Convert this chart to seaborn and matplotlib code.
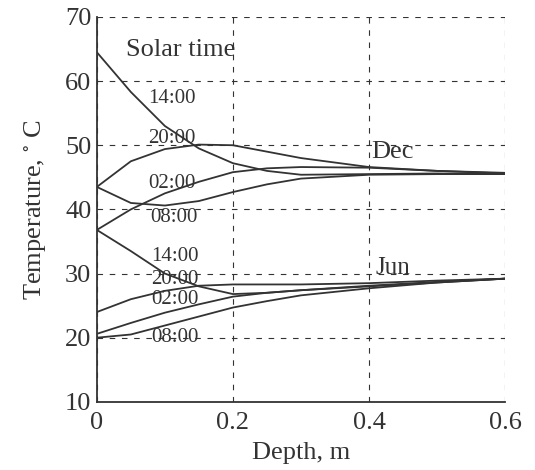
import numpy as np
import pandas as pd
import matplotlib
matplotlib.use("Agg")
import matplotlib.pyplot as plt
import seaborn as sns

# depth grid (m)
depth = [0.0, 0.05, 0.1, 0.15, 0.2, 0.25, 0.3, 0.4, 0.5, 0.6]

# December profiles (deg C)
dec_1400 = [64.5, 58.3, 53.0, 49.5, 47.2, 46.0, 45.4, 45.5, 45.6, 45.5]
dec_2000 = [43.5, 47.5, 49.4, 50.1, 50.0, 49.0, 48.0, 46.6, 46.0, 45.7]
dec_0200 = [36.8, 40.0, 42.5, 44.3, 45.8, 46.4, 46.6, 46.5, 46.0, 45.6]
dec_0800 = [43.5, 41.0, 40.6, 41.3, 42.7, 43.9, 44.8, 45.4, 45.5, 45.5]

# June profiles (deg C)
jun_1400 = [36.8, 33.5, 30.0, 28.0, 26.8, 27.0, 27.4, 28.1, 28.7, 29.2]
jun_2000 = [24.0, 26.0, 27.3, 28.1, 28.3, 28.3, 28.3, 28.5, 28.9, 29.2]
jun_0200 = [20.6, 22.3, 23.9, 25.2, 26.4, 27.0, 27.4, 28.0, 28.6, 29.2]
jun_0800 = [20.0, 20.5, 21.9, 23.3, 24.7, 25.7, 26.6, 27.7, 28.6, 29.2]

curves = {
    "Dec 14:00": dec_1400, "Dec 20:00": dec_2000,
    "Dec 02:00": dec_0200, "Dec 08:00": dec_0800,
    "Jun 14:00": jun_1400, "Jun 20:00": jun_2000,
    "Jun 02:00": jun_0200, "Jun 08:00": jun_0800,
}

# curve labels: (text, x, y)
time_labels = [("14:00", 0.075, 57.3), ("20:00", 0.075, 51.1),
               ("02:00", 0.075, 44.1), ("08:00", 0.078, 38.7),
               ("14:00", 0.08, 32.6), ("20:00", 0.08, 29.0),
               ("02:00", 0.08, 25.9), ("08:00", 0.08, 20.0)]

rows = []
for name, vals in curves.items():
    for d, t in zip(depth, vals):
        rows.append({"curve": name, "depth": d, "temp": t})
df = pd.DataFrame(rows)

sns.set_style("white")
plt.rcParams["mathtext.fontset"] = "stix"
ink = "#333333"
serif = ["Liberation Serif", "DejaVu Serif"]

fig, ax = plt.subplots(figsize=(5.35, 4.70), dpi=100)
fig.subplots_adjust(left=0.181, right=0.944, top=0.964, bottom=0.145)

sns.lineplot(data=df, x="depth", y="temp", units="curve", estimator=None,
             color=ink, lw=1.3, ax=ax, legend=False)

ax.set_xlim(0, 0.6)
ax.set_ylim(10, 70)
ax.set_xticks([0, 0.2, 0.4, 0.6])
ax.set_xticklabels(["0", "0.2", "0.4", "0.6"])
ax.set_yticks([10, 20, 30, 40, 50, 60, 70])
ax.grid(True, color=ink, lw=0.8, linestyle=(0, (5, 6)))
ax.tick_params(direction="in", length=4, width=1, labelsize=19,
               colors=ink)
ax.tick_params(axis="x", pad=7)
ax.tick_params(axis="y", pad=4)
for lab in ax.get_xticklabels() + ax.get_yticklabels():
    lab.set_family(serif)
for s in ["top", "right"]:
    ax.spines[s].set_visible(False)
for s in ["left", "bottom"]:
    ax.spines[s].set_color(ink)
    ax.spines[s].set_linewidth(1.3)

ax.set_xlabel("Depth, m", family=serif, fontsize=19, color=ink, labelpad=6)
ax.set_ylabel("Temperature, $^{\\circ}$ C", family=serif, fontsize=19,
              color=ink, labelpad=12)

ax.text(0.043, 64.8, "Solar time", family=serif, fontsize=19, color=ink,
        va="center")
for txt, x, y in time_labels:
    ax.text(x, y, txt, family=serif, fontsize=15, color=ink, va="center")
ax.text(0.404, 49.0, "Dec", family=serif, fontsize=19, color=ink, va="center")
ax.text(0.409, 30.9, "Jun", family=serif, fontsize=18, color=ink, va="center")

fig.savefig("out.png", dpi=100)
